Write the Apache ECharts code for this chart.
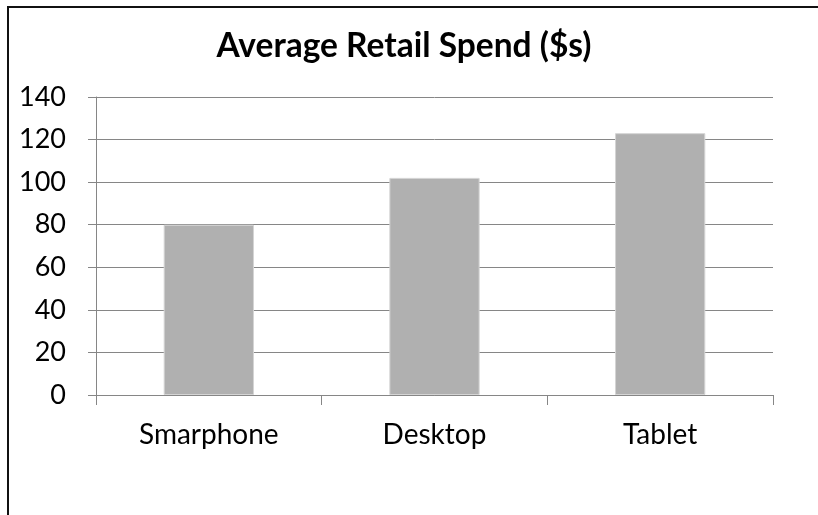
<!DOCTYPE html>
<html>
<head>
<meta charset="utf-8">
<script src="https://cdn.jsdelivr.net/npm/echarts@6/dist/echarts.min.js"></script>
<style>
html,body{margin:0;padding:0;background:#fff;}
#c{width:818px;height:515px;}
</style>
</head>
<body>
<div id="c"></div>
<script>
const titleText = "Average Retail Spend ($s)";
const categories = ["Smarphone", "Desktop", "Tablet"];
const values = [80, 102, 123];
const yMin = 0, yMax = 140, yStep = 20;

const FONT = "Lato";
const chart = echarts.init(document.getElementById('c'), null, {renderer: 'canvas'});
chart.setOption({
  animation: false,
  backgroundColor: '#ffffff',
  title: {
    text: titleText,
    left: 399, textAlign: 'center', top: 24,
    textStyle: {fontFamily: FONT, fontWeight: 'bold', fontSize: 33.5, color: '#000'}
  },
  grid: {left: 96, right: 45, top: 97, bottom: 120},
  xAxis: {
    type: 'category',
    data: categories,
    axisLine: {lineStyle: {color: '#868686', width: 1}},
    axisTick: {show: true, length: 10, lineStyle: {color: '#868686'}},
    axisLabel: {fontFamily: FONT, fontSize: 28, color: '#000', margin: 26}
  },
  yAxis: {
    type: 'value',
    min: yMin, max: yMax, interval: yStep,
    axisLine: {show: true, lineStyle: {color: '#868686', width: 1}},
    axisTick: {show: true, length: 8, lineStyle: {color: '#868686'}},
    axisLabel: {fontFamily: FONT, fontSize: 27, color: '#000', margin: 30},
    splitLine: {lineStyle: {color: '#868686', width: 1}}
  },
  series: [{
    type: 'bar',
    data: values,
    barWidth: '40%',
    itemStyle: {color: '#b0b0b0', borderColor: '#d4d4d4', borderWidth: 1}
  }],
  graphic: [{
    type: 'polyline',
    shape: {points: [[8, 515], [8, 7], [818, 7]]},
    style: {stroke: '#111', lineWidth: 2, fill: null},
    z: 100
  }]
});
</script>
</body>
</html>
